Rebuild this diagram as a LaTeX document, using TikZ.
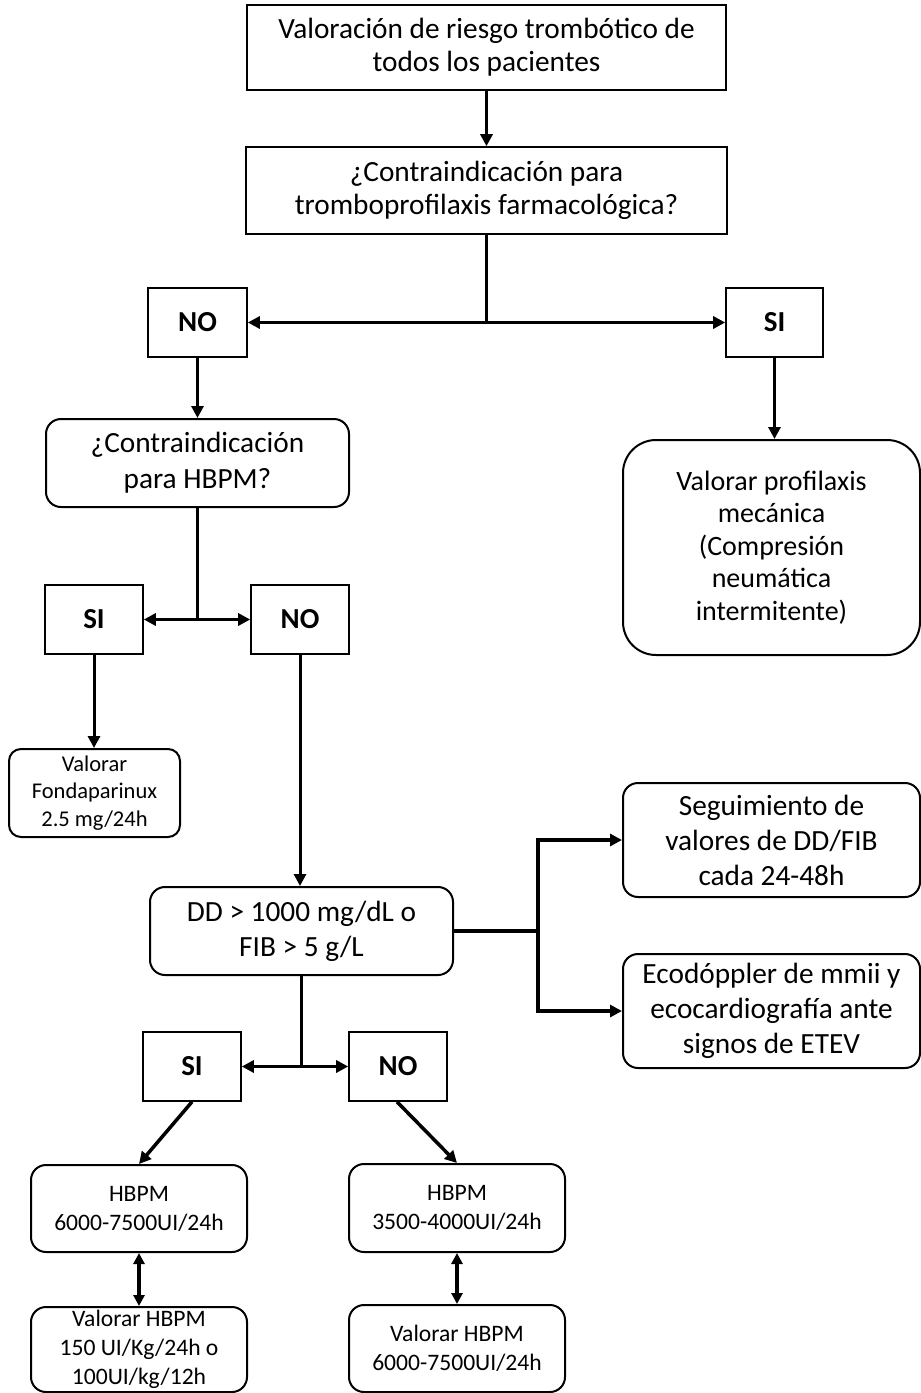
\documentclass[tikz,border=0pt]{standalone}
\usepackage{fontspec}
\setmainfont{Carlito}
\usetikzlibrary{arrows.meta,calc}
\tikzset{
  sq/.style={draw, line width=1.6pt, rectangle, inner sep=0pt, align=center},
  rbox/.style={draw, line width=2pt, rounded corners=15pt, inner sep=0pt, align=center},
  bigtxt/.style={font=\fontsize{29.3}{35}\selectfont},
  bigtxtb/.style={font=\fontsize{29.3}{33}\selectfont},
  mechtxt/.style={font=\fontsize{28}{32.5}\selectfont},
  smalltxt/.style={font=\fontsize{22.5}{27.5}\selectfont},
  medtxt/.style={font=\fontsize{23.6}{29}\selectfont},
  yn/.style={sq, minimum width=98pt, minimum height=69pt, font=\fontsize{29}{33}\selectfont\bfseries},
  conn/.style={line width=3.5pt, -{Triangle[length=12pt,width=12pt]}},
  plainline/.style={line width=3.5pt},
  dbl/.style={line width=3.5pt, {Triangle[length=11pt,width=11pt]}-{Triangle[length=11pt,width=11pt]}},
}
\begin{document}
\begin{tikzpicture}[x=1pt,y=-1pt]
\useasboundingbox (0,0) rectangle (921,1393);

% top rectangles
\node[sq, bigtxtb, minimum width=479pt, minimum height=85pt] (top) at (486.5,47.5)
  {Valoración de riesgo trombótico de\\todos los pacientes};
\node[sq, bigtxtb, minimum width=481pt, minimum height=87pt] (q1) at (486.5,190.5)
  {¿Contraindicación para\\tromboprofilaxis farmacológica?};

% first decision
\node[yn, minimum width=99pt] (no1) at (197.5,322.5) {NO};
\node[yn, minimum width=97pt] (si1) at (774.5,322.5) {SI};
\coordinate (j1) at (q1.south |- no1.east);

\node[rbox, bigtxt, font=\fontsize{29.3}{36}\selectfont, minimum width=303pt, minimum height=88pt] (q2) at (197.5,463)
  {¿Contraindicación\\para HBPM?};
\node[rbox, mechtxt, rounded corners=33pt, minimum width=297pt, minimum height=215pt] (mech) at (771.5,547.5)
  {Valorar profilaxis\\mecánica\\(Compresión\\neumática\\intermitente)};

% second decision
\node[yn] (si2) at (94,619.5) {SI};
\node[yn] (no2) at (300,619.5) {NO};
\coordinate (j2) at (q2.south |- si2.east);

\node[rbox, smalltxt, rounded corners=12pt, minimum width=171pt, minimum height=88pt] (fonda) at (94.5,793)
  {Valorar\\Fondaparinux\\2.5 mg/24h};

\node[rbox, bigtxt, minimum width=303pt, minimum height=88pt] (dd) at (301.5,931)
  {DD > 1000 mg/dL o\\FIB > 5 g/L};
\node[rbox, bigtxt, minimum width=297pt, minimum height=114pt] (seg) at (771.5,840)
  {Seguimiento de\\valores de DD/FIB\\cada 24-48h};
\node[rbox, bigtxt, minimum width=297pt, minimum height=114pt] (eco) at (771.5,1011)
  {Ecodóppler de mmii y\\ecocardiografía ante\\signos de ETEV};
\coordinate (j3) at (538,931);

% third decision
\node[yn] (si3) at (192,1066.5) {SI};
\node[yn] (no3) at (398,1066.5) {NO};
\coordinate (j4) at (dd.south |- si3.east);

\node[rbox, medtxt, minimum width=216pt, minimum height=87pt] (hb1) at (139,1208.5)
  {HBPM\\6000-7500UI/24h};
\node[rbox, medtxt, minimum width=216pt, minimum height=88pt] (hb2) at (457,1208)
  {HBPM\\3500-4000UI/24h};
\node[rbox, medtxt, minimum width=216pt, minimum height=85pt] (v1) at (139,1349.5)
  {Valorar HBPM\\150 UI/Kg/24h o\\100UI/kg/12h};
\node[rbox, medtxt, minimum width=216pt, minimum height=87pt] (v2) at (457,1348.5)
  {Valorar HBPM\\6000-7500UI/24h};

% connectors
\draw[conn] (top.south) -- (q1.north);
\draw[plainline] (q1.south) -- (j1);
\draw[conn] (j1) -- (no1.east);
\draw[conn] (j1) -- (si1.west);
\draw[conn] (no1.south) -- (q2.north);
\draw[conn] (si1.south) -- (si1.south |- mech.north);

\draw[plainline] (q2.south) -- (j2);
\draw[conn] (j2) -- (si2.east);
\draw[conn] (j2) -- (no2.west);
\draw[conn, line width=3pt] (si2.south) -- (si2.south |- fonda.north);
\draw[conn, line width=3pt] (no2.south) -- (no2.south |- dd.north);

\draw[plainline] (dd.east) -- (j3);
\draw[conn] (j3) |- (seg.west);
\draw[conn] (j3) |- (eco.west);

\draw[plainline] (dd.south) -- (j4);
\draw[conn] (j4) -- (si3.east);
\draw[conn] (j4) -- (no3.west);

\draw[conn] (si3.south) -- (hb1.north);
\draw[conn] ([xshift=-1pt]no3.south) -- (hb2.north);
\draw[dbl] (hb1.south) -- (v1.north);
\draw[dbl] (hb2.south) -- (v2.north);
\end{tikzpicture}
\end{document}
